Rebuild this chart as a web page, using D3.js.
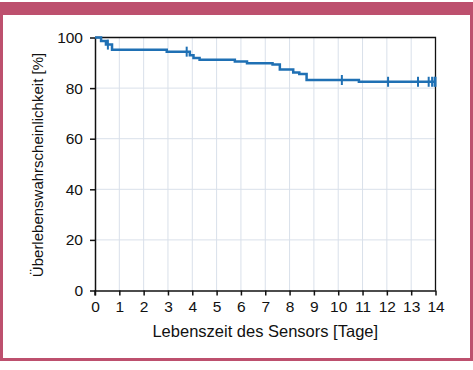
<!DOCTYPE html>
<html>
<head>
<meta charset="utf-8">
<script src="https://cdn.jsdelivr.net/npm/d3@7"></script>
<style>
  body { margin: 0; background: #fff; }
  text { font-family: "Liberation Sans", Arial, sans-serif; fill: #111; }
</style>
</head>
<body>
<div id="chart"></div>
<script>
// Kaplan-Meier steps
var stepDays = [0, 0.25, 0.45, 0.7, 2.95, 3.9, 4.05, 4.3, 5.75, 6.25, 7.3, 7.6, 8.15, 8.4, 8.7, 10.85, 14];
var stepSurv = [100, 98.6, 97.2, 95.2, 94.4, 93.0, 91.9, 91.2, 90.5, 89.8, 89.3, 87.4, 86.2, 85.6, 83.2, 82.5, 82.5];
// censored sensors (tick marks)
var censDays = [0.53, 3.77, 10.15, 12.05, 13.28, 13.72, 13.86, 13.96, 14];
var xTicks = d3.range(0, 15);
var yTicks = [0, 20, 40, 60, 80, 100];

var W = 473, H = 370;
var margin = {top: 37.5, right: 37.5, bottom: 79.5, left: 95};
var w = W - margin.left - margin.right,
    h = H - margin.top - margin.bottom;

var svg = d3.select("#chart").append("svg")
    .attr("width", W)
    .attr("height", H);

// pink frame
svg.append("rect").attr("x", 0).attr("y", 2).attr("width", W).attr("height", 359).attr("fill", "#bd506e");
svg.append("rect").attr("x", 3).attr("y", 15).attr("width", 467).attr("height", 343).attr("fill", "#fff");

var x = d3.scaleLinear().domain([0, 14]).range([0, w]);
var y = d3.scaleLinear().domain([0, 100]).range([h, 0]);

var g = svg.append("g").attr("transform", "translate(" + margin.left + "," + margin.top + ")");

// grid
g.selectAll(".vgrid").data(xTicks.slice(1, -1)).enter().append("line")
    .attr("x1", x).attr("x2", x).attr("y1", 0).attr("y2", h)
    .attr("stroke", "#d9e0ea").attr("stroke-width", 1);
g.selectAll(".hgrid").data(yTicks.slice(1, -1)).enter().append("line")
    .attr("y1", y).attr("y2", y).attr("x1", 0).attr("x2", w)
    .attr("stroke", "#d9e0ea").attr("stroke-width", 1);

// top and right border
g.append("path")
    .attr("d", "M0,0H" + w + "V" + h)
    .attr("fill", "none").attr("stroke", "#111").attr("stroke-width", 1.3);

var xAxis = g.append("g").attr("transform", "translate(0," + h + ")")
    .call(d3.axisBottom(x).tickValues(xTicks).tickSize(5).tickPadding(5).tickSizeOuter(0));
var yAxis = g.append("g")
    .call(d3.axisLeft(y).tickValues(yTicks).tickSize(5).tickPadding(7).tickSizeOuter(0));
[xAxis, yAxis].forEach(function(a) {
    a.select(".domain").attr("stroke", "#111").attr("stroke-width", 1.5);
    a.selectAll(".tick line").attr("stroke", "#111").attr("stroke-width", 1.5);
    a.selectAll("text").style("font-size", "15.5px").attr("fill", "#111");
});
// axis lines cross a little at the origin
g.append("line").attr("x1", 0).attr("x2", 0).attr("y1", h).attr("y2", h + 5).attr("stroke", "#111").attr("stroke-width", 1.5);

// survival curve
var pts = stepDays.map(function(d, i) { return [d, stepSurv[i]]; });
var line = d3.line().x(function(d) { return x(d[0]); }).y(function(d) { return y(d[1]); })
    .curve(d3.curveStepAfter);
g.append("path").datum(pts)
    .attr("d", line)
    .attr("fill", "none").attr("stroke", "#1f70b4").attr("stroke-width", 2.5);

function survAt(t) {
    var s = stepSurv[0];
    for (var i = 0; i < stepDays.length; i++) if (stepDays[i] <= t) s = stepSurv[i];
    return s;
}
g.selectAll(".cens").data(censDays).enter().append("line")
    .attr("x1", x).attr("x2", x)
    .attr("y1", function(d) { return y(survAt(d)) - 5; })
    .attr("y2", function(d) { return y(survAt(d)) + 5; })
    .attr("stroke", "#1f70b4").attr("stroke-width", 2);

// titles
svg.append("text")
    .attr("x", margin.left + w / 2).attr("y", 337)
    .attr("text-anchor", "middle").style("font-size", "16.5px")
    .text("Lebenszeit des Sensors [Tage]");
svg.append("text")
    .attr("transform", "translate(43," + (margin.top + h / 2 + 1) + ") rotate(-90)")
    .attr("text-anchor", "middle").style("font-size", "15px")
    .text("Überlebenswahrscheinlichkeit [%]");
</script>
</body>
</html>
